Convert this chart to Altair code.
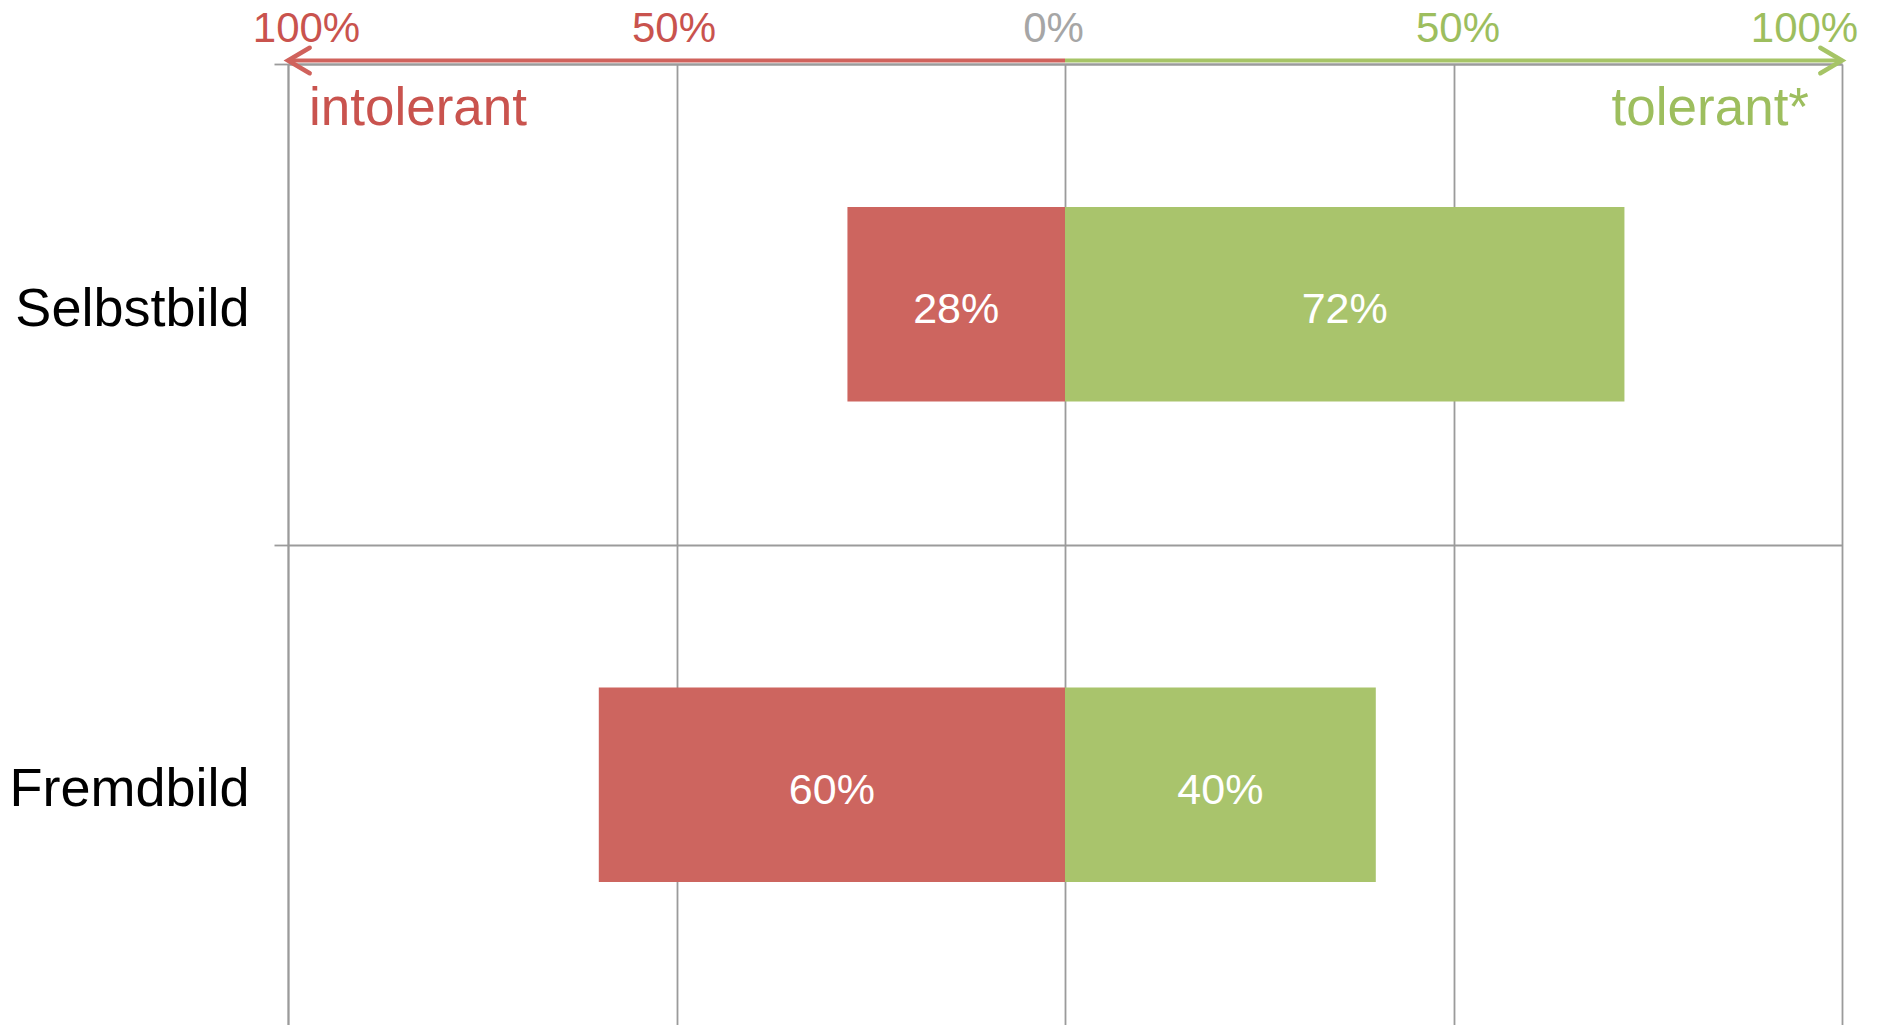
import altair as alt
import pandas as pd

# ---- data ----
categories = ["Selbstbild", "Fremdbild"]
intolerant = [28, 60]
tolerant = [72, 40]
tick_values = [-100, -50, 0, 50, 100]
side_labels = ["intolerant", "tolerant*"]
side_pos = [-100, 100]

# ---- styles ----
RED = "#CD655F"
GREEN = "#A9C46C"
RED_LINE = "#D0625C"
GREEN_LINE = "#A6C466"
RED_TXT = "#C9534E"
GREEN_TXT = "#9DBE5E"
GREY = "#9B9B9B"
FONT = "Liberation Sans"

rows = []
for c, a, b in zip(categories, intolerant, tolerant):
    rows.append({"cat": c, "side": "intolerant", "start": -a, "end": 0,
                 "mid": -a / 2, "label": f"{a}%", "col": RED})
    rows.append({"cat": c, "side": "tolerant", "start": 0, "end": b,
                 "mid": b / 2, "label": f"{b}%", "col": GREEN})
df = pd.DataFrame(rows)

arrow_df = pd.DataFrame({
    "x0": [0, 0],
    "x1": side_pos,
    "col": [RED_LINE, GREEN_LINE],
    "shape": ["M1.7,-1L0,0L1.7,1", "M-1.7,-1L0,0L-1.7,1"],
})

xscale = alt.Scale(domain=[-100, 100], nice=False, zero=False)
yscale = alt.Scale(domain=categories, paddingInner=0, paddingOuter=0)

label_color = {
    "condition": [
        {"test": "datum.value < 0", "value": RED_TXT},
        {"test": "datum.value > 0", "value": GREEN_TXT},
    ],
    "value": "#A6A6A6",
}

label_offset = {
    "condition": [
        {"test": "datum.value == -100", "value": 18},
        {"test": "datum.value == 0", "value": -12},
        {"test": "datum.value == 50", "value": 4},
        {"test": "datum.value == 100", "value": -38},
    ],
    "value": -3,
}

x_axis = alt.Axis(
    orient="top", values=tick_values, labelExpr="abs(datum.value) + '%'",
    grid=True, gridColor=GREY, gridWidth=1.8,
    domain=True, domainColor=GREY, domainWidth=1.8,
    ticks=False, tickSize=0,
    labelFontSize=42, labelFont=FONT, labelColor=label_color,
    labelPadding=23, labelBaseline="alphabetic",
    labelFlush=False, labelOffset=label_offset, title=None,
)

y_axis = alt.Axis(
    title=None, labelFontSize=54, labelFont=FONT, labelColor="black",
    labelPadding=25, labelBaseline="middle", labelLimit=0, labelOffset=5,
    ticks=True, tickBand="extent", tickSize=14, tickWidth=1.8,
    tickColor={"condition": {"test": "datum.value === 'Fremdbild'", "value": "transparent"}, "value": GREY},
    grid=True, gridWidth=1.8,
    gridColor={"condition": {"test": "datum.value === 'Fremdbild'", "value": "transparent"}, "value": GREY},
    domain=True, domainColor=GREY, domainWidth=1.8,
)

bars = alt.Chart(df).mark_bar(height={"band": 0.405}).encode(
    x=alt.X("start:Q", scale=xscale, axis=x_axis),
    x2="end:Q",
    y=alt.Y("cat:N", scale=yscale, sort=categories, axis=y_axis),
    color=alt.Color("col:N", scale=None),
)

bar_labels = alt.Chart(df).mark_text(
    color="white", fontSize=43, font=FONT, baseline="middle", align="center", dy=6
).encode(
    x=alt.X("mid:Q"),
    y=alt.Y("cat:N", sort=categories),
    text="label:N",
)

rules = alt.Chart(arrow_df).mark_rule(strokeWidth=4, strokeCap="butt").encode(
    x="x0:Q", x2="x1:Q", y=alt.value(-3.5),
    color=alt.Color("col:N", scale=None),
)

heads = alt.Chart(arrow_df).mark_point(
    filled=False, size=650, strokeWidth=4.5, strokeCap="round", opacity=1
).encode(
    x="x1:Q", y=alt.value(-3.5),
    shape=alt.Shape("shape:N", scale=None),
    color=alt.Color("col:N", scale=None),
)

side_df_l = pd.DataFrame({"x": [side_pos[0]], "t": [side_labels[0]]})
side_df_r = pd.DataFrame({"x": [side_pos[1]], "t": [side_labels[1]]})

t_left = alt.Chart(side_df_l).mark_text(
    align="left", baseline="alphabetic", fontSize=53, font=FONT,
    color=RED_TXT, dx=21
).encode(x="x:Q", y=alt.value(60.6), text="t:N")

t_right = alt.Chart(side_df_r).mark_text(
    align="right", baseline="alphabetic", fontSize=53, font=FONT,
    color=GREEN_TXT, dx=-33
).encode(x="x:Q", y=alt.value(60.6), text="t:N")

chart = alt.layer(bars, bar_labels, rules, heads, t_left, t_right).properties(
    width=1554, height=961,
    autosize=alt.AutoSizeParams(type="none"),
    padding={"left": 280, "top": 56, "right": 24, "bottom": 0},
).configure_view(stroke=None)

chart.save("out.html", embed_options={"renderer": "svg", "actions": False})
